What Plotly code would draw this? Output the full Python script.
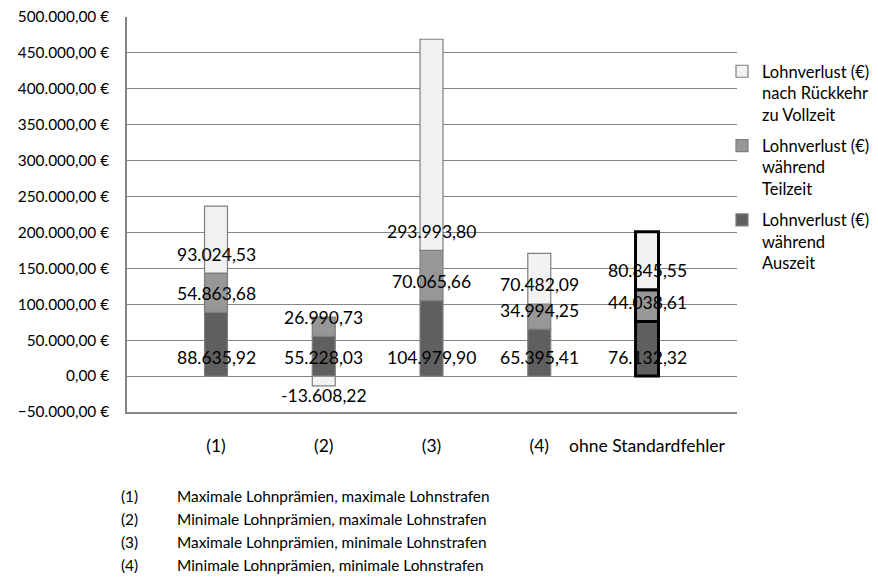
import plotly.graph_objects as go

categories = ["(1)", "(2)", "(3)", "(4)", "ohne Standardfehler"]
auszeit = [88635.92, 55228.03, 104979.90, 65395.41, 76132.32]
teilzeit = [54863.68, 26990.73, 70065.66, 34994.25, 44038.61]
vollzeit = [93024.53, -13608.22, 293993.80, 70482.09, 80845.55]

series_names = [
    "Lohnverlust (€)<br>während<br>Auszeit",
    "Lohnverlust (€)<br>während<br>Teilzeit",
    "Lohnverlust (€)<br>nach Rückkehr<br>zu Vollzeit",
]
series_values = [auszeit, teilzeit, vollzeit]
series_colors = ["#5f5f5f", "#979797", "#f2f2f2"]

footnote_keys = ["(1)", "(2)", "(3)", "(4)"]
footnote_texts = [
    "Maximale Lohnprämien, maximale Lohnstrafen",
    "Minimale Lohnprämien, maximale Lohnstrafen",
    "Maximale Lohnprämien, minimale Lohnstrafen",
    "Minimale Lohnprämien, minimale Lohnstrafen",
]

FONT = "Lato, 'Open Sans', sans-serif"
# the page body adds an 8px offset; size the figure so it ends at the window edge
OFF = 8
W, H = 878 - OFF, 586 - OFF
ML, MT = 127 - OFF, 17 - OFF
MR, MB = 878 - 737, 586 - 412
PW, PH = W - ML - MR, H - MT - MB


def de(v):
    s = f"{v:,.2f}"
    return s.replace(",", "X").replace(".", ",").replace("X", ".")


def px_x(x):  # window pixel -> paper x
    return (x - 127) / PW


def px_y(y):  # window pixel -> paper y
    return (412 - y) / PH


line_colors = ["#7f7f7f"] * 4 + ["#000000"]
line_widths = [1.2] * 4 + [3]

fig = go.Figure()
n = len(series_names)
for i, (name, vals, col) in enumerate(zip(series_names, series_values, series_colors)):
    fig.add_trace(go.Bar(
        x=categories, y=vals, name=name, width=0.213,
        marker=dict(color=col, line=dict(color=line_colors, width=line_widths)),
        legendgroup=f"g{i}", legendrank=n - i,
        hoverinfo="skip",
    ))

# data labels at the base of each segment (Excel "inside base")
annotations = []
pos_base = [0.0] * len(categories)
neg_base = [0.0] * len(categories)
for vals in series_values:
    for j, v in enumerate(vals):
        if v >= 0:
            base = pos_base[j]
            pos_base[j] += v
            shift = 19
        else:
            base = neg_base[j]
            neg_base[j] += v
            shift = -19
        annotations.append(dict(
            x=categories[j], y=base, xref="x", yref="y", text=de(v),
            showarrow=False, yshift=shift, xanchor="center", yanchor="middle",
            font=dict(family=FONT, size=17.5, color="#000000"),
        ))

row_y = [496, 519, 542, 565]
for k, t, yy in zip(footnote_keys, footnote_texts, row_y):
    annotations.append(dict(
        x=px_x(119), y=px_y(yy), xref="paper", yref="paper",
        text=k, showarrow=False, xanchor="left", yanchor="middle",
        font=dict(family=FONT, size=15.4, color="#000000"),
    ))
    annotations.append(dict(
        x=px_x(175), y=px_y(yy), xref="paper", yref="paper",
        text=t, showarrow=False, xanchor="left", yanchor="middle",
        font=dict(family=FONT, size=15.4, color="#000000"),
    ))

fig.update_layout(
    width=W, height=H,
    margin=dict(l=ML, r=MR, t=MT, b=MB, pad=0, autoexpand=False),
    barmode="relative",
    separators=",.",
    paper_bgcolor="white", plot_bgcolor="white",
    font=dict(family=FONT, size=16, color="#000000"),
    showlegend=True,
    legend=dict(
        x=px_x(722), y=px_y(54), xanchor="left", yanchor="top",
        traceorder="grouped", tracegroupgap=7, valign="top",
        font=dict(family=FONT, size=16.5, color="#000000"),
        itemwidth=30, bgcolor="rgba(0,0,0,0)",
    ),
    annotations=annotations,
    xaxis=dict(
        type="category", range=[-0.826, 4.835], showgrid=False,
        showline=True, linecolor="#868686", linewidth=1.5,
        ticks="", ticklabelstandoff=17, ticklabeloverflow="allow",
        tickfont=dict(family=FONT, size=17.5),
        fixedrange=True,
    ),
    yaxis=dict(
        range=[-50000, 500000], dtick=50000, tick0=0,
        tickformat=",.2f", ticksuffix=" €",
        showgrid=True, gridcolor="#868686", gridwidth=1,
        zeroline=True, zerolinecolor="#868686", zerolinewidth=1,
        showline=True, linecolor="#868686", linewidth=1.5,
        ticks="", ticklabelstandoff=13, ticklabeloverflow="allow",
        tickfont=dict(family=FONT, size=15.4),
        fixedrange=True,
    ),
)

fig.write_html("out.html")
